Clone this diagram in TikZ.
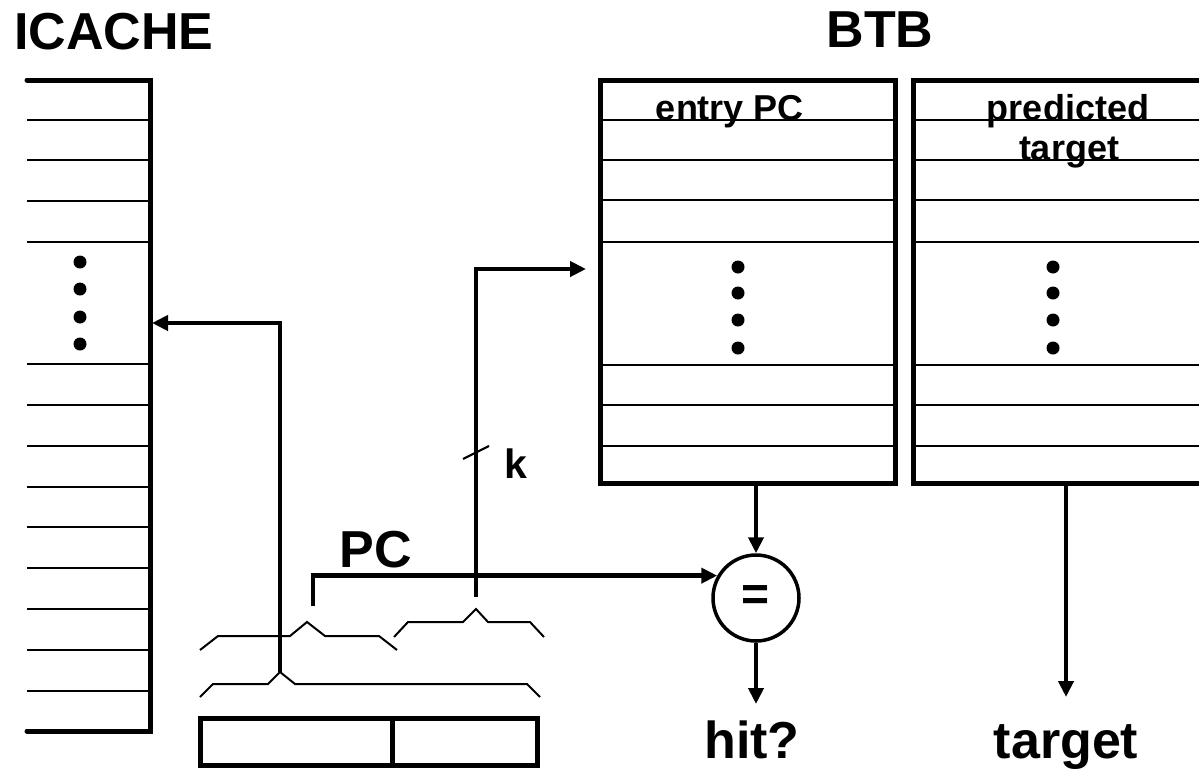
\documentclass[tikz,border=0pt]{standalone}
\usepackage{fontspec}
\setmainfont{Liberation Sans}
\usetikzlibrary{arrows.meta}
\begin{document}
\begin{tikzpicture}[x=1pt,y=-1pt,
  tline/.style={line width=2.2pt},
  boldln/.style={line width=5pt},
  conn/.style={line width=4.5pt,-{Triangle[length=16pt,width=15pt]}},
  brace/.style={line width=2pt},
  big/.style={font=\fontsize{52}{60}\selectfont\bfseries,inner sep=0pt,anchor=base},
  small/.style={font=\fontsize{36}{40}\selectfont\bfseries,inner sep=0pt,anchor=base},
  dot/.style={fill=black},
  tbox/.style={draw,line width=5pt,rectangle,inner sep=0pt,minimum width=295pt,minimum height=403pt}
]
\useasboundingbox (0,0) rectangle (1199,769);
\clip (0,0) rectangle (1199,769);

% ---------- ICACHE ----------
\node[big] (icache) at (114,49) {ICACHE};
\foreach \y in {120,160,201,242,364,405,446,487,527,568,609,650,691}
  \draw[tline] (27,\y) -- (150,\y);
\draw[boldln,line cap=round] (27,80) -- (150,80) -- (150,731) -- (27,731);
\foreach \y in {262,289,317,344}
  \fill[dot] (80,\y) circle[radius=6.5pt];
\coordinate (icin) at (152,323);

% ---------- BTB ----------
\node[big] (btb) at (880,47) {BTB};
\node[tbox] (btbL) at (747.5,281.5) {};
\node[tbox] (btbR) at (1060.5,281.5) {};
\foreach \y in {120,160,200,242,365,405,446}{
  \draw[tline] (600,\y) -- (895,\y);
  \draw[tline] (913,\y) -- (1199,\y);
}
\foreach \y in {267,293,320,348}{
  \fill[dot] (738,\y) circle[radius=6.5pt];
  \fill[dot] (1053,\y) circle[radius=6.5pt];
}
\node[small] (entrypc) at (730,120) {entry PC};
\node[small] (pred1) at (1068,120) {predicted};
\node[small] (pred2) at (1069,160) {target};
\coordinate (btbin) at (586,269);

% ---------- comparator ----------
\node[draw,circle,line width=3.5pt,minimum size=86pt,inner sep=0pt,
      font=\fontsize{48}{50}\selectfont\bfseries] (eq) at (756,598) {=};

% ---------- output labels ----------
\node[big] (hit) at (752,758) {hit?};
\node[big] (tgt) at (1066,758) {target};
\coordinate (hitin) at (756,704);
\coordinate (tgtin) at (1066,697);

% ---------- PC register and field braces ----------
\draw[boldln] (200,718) rectangle (537,765);
\draw[boldln] (392,718) -- (392,765);
\node[big] (pc) at (376,567) {PC};

\draw[brace] (200,697) -- (213,684) -- (268,684) -- (280,672) -- (295,684) -- (527,684) -- (540,697);
\coordinate (lowtip) at (280,672);
\draw[brace] (200,650) -- (218,636) -- (290,636) -- (307,622) -- (325,636) -- (379,636) -- (397,650);
\draw[brace] (394,637) -- (408,622) -- (463,622) -- (476,609) -- (488,622) -- (530,622) -- (544,637);
\coordinate (pctail) at (313,606);
\coordinate (ktail) at (476,597);

% ---------- connectors ----------
\draw[conn] (lowtip) |- (icin);
\draw[conn] (ktail) |- (btbin);
\draw[conn] (pctail) |- (eq.150);
\draw[conn] (btbL.south -| eq.north) -- (eq.north);
\draw[conn] (eq.south) -- (hitin);
\draw[conn] (btbR.south -| tgtin) -- (tgtin);

% k bus mark
\draw[tline] (463,459) -- (489,446);
\node[font=\fontsize{41}{45}\selectfont\bfseries,inner sep=0pt,anchor=base] (k) at (516,478) {k};
\end{tikzpicture}
\end{document}
